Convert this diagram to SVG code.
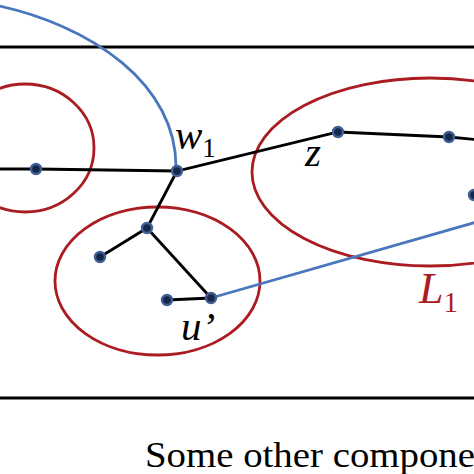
<svg xmlns="http://www.w3.org/2000/svg" width="474" height="474" viewBox="0 0 474 474">
<style>
.frame{stroke:#000;stroke-width:3.2;fill:none}
.edge{stroke:#000;stroke-width:2.8;fill:none}
.cl{stroke:#ab1c22;stroke-width:2.8;fill:none}
.bl{stroke:#4a76bd;stroke-width:2.8;fill:none}
.dot{fill:#16284a;stroke:#3f5f95;stroke-width:2.4}
.m{font-family:"Liberation Serif",serif;font-style:italic;fill:#000}
.s{font-family:"Liberation Serif",serif;fill:#000}
</style>
<rect width="474" height="474" fill="#fff"/>
<g id="frame">
<line class="frame" x1="0" y1="47" x2="474" y2="47"/>
<line class="frame" x1="0" y1="398" x2="474" y2="398"/>
</g>
<g id="clusters">
<ellipse id="cluster-left" class="cl" cx="25" cy="148" rx="69" ry="64"/>
<ellipse id="cluster-mid" class="cl" cx="157.5" cy="281" rx="102.5" ry="74"/>
<ellipse id="cluster-L1" class="cl" cx="430" cy="172" rx="178" ry="94"/>
</g>
<g id="connectors">
<path class="bl" d="M -10 4 C 92 24 178 85 176 170"/>
<line class="bl" x1="211" y1="298" x2="480" y2="221"/>
<polyline class="edge" points="0,169 36,169 177,171 338,132 449,137 480,140"/>
<line class="edge" x1="177" y1="171" x2="147" y2="228"/>
<line class="edge" x1="147" y1="228" x2="100" y2="257"/>
<line class="edge" x1="147" y1="228" x2="211" y2="298"/>
<line class="edge" x1="167" y1="300" x2="211" y2="298"/>
</g>
<g id="nodes">
<circle id="n-left" class="dot" cx="36" cy="169" r="5"/>
<circle id="n-w1" class="dot" cx="177" cy="171" r="5"/>
<circle id="n-z" class="dot" cx="338" cy="132" r="5"/>
<circle id="n-r1" class="dot" cx="449" cy="137" r="5"/>
<circle id="n-r2" class="dot" cx="474" cy="195" r="5"/>
<circle id="n-a" class="dot" cx="147" cy="228" r="5"/>
<circle id="n-b" class="dot" cx="100" cy="257" r="5"/>
<circle id="n-c" class="dot" cx="167" cy="300" r="5"/>
<circle id="n-u" class="dot" cx="211" cy="298" r="5"/>
</g>
<g id="labels">
<text class="m" x="175" y="149" font-size="41">w<tspan class="s" font-style="normal" font-size="27" dy="8">1</tspan></text>
<text class="m" x="305" y="166" font-size="41">z</text>
<text class="m" x="181" y="340" font-size="41">u’</text>
<text class="m" x="419" y="303" font-size="44" style="fill:#ab1c22">L<tspan font-style="normal" font-size="29" dy="9">1</tspan></text>
<text class="s" x="145" y="467" font-size="36" textLength="330" lengthAdjust="spacingAndGlyphs">Some other compone</text>
</g>
</svg>
